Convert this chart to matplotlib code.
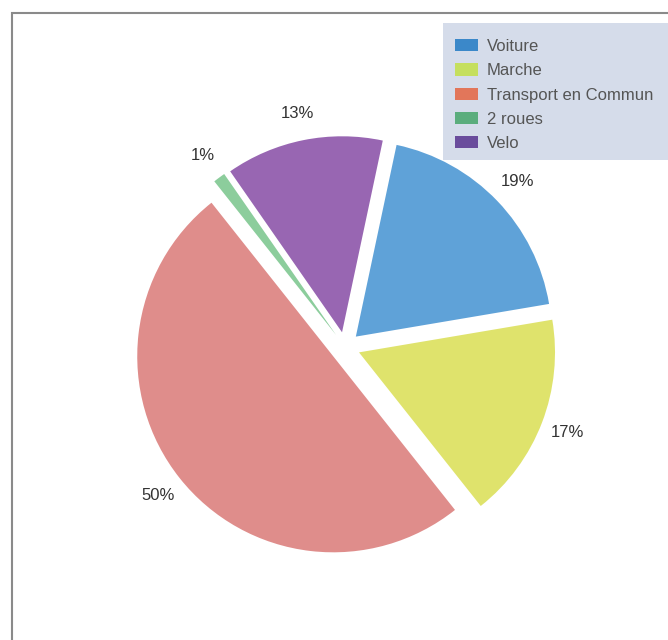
import matplotlib.pyplot as plt
from matplotlib.patches import Rectangle, Patch

labels = ["Voiture", "Marche", "Transport en Commun", "2 roues", "Velo"]
values = [19, 17, 50, 1, 13]
pie_colors = ["#5fa2d8", "#dfe36c", "#df8d8b", "#8ccd9c", "#9866b2"]
legend_colors = ["#3b88c9", "#c5df5e", "#e2765a", "#5bad7d", "#6a4c9c"]

plt.rcParams['font.family'] = ['Liberation Sans', 'DejaVu Sans']

fig = plt.figure(figsize=(6.68, 6.4), dpi=100)
ax = fig.add_axes([0, 0, 1, 1])

# pie centred at pixel (345, 347) from top, radius ~196 px, explode in px
wedges, texts, autotexts = ax.pie(
    values, colors=pie_colors, startangle=78, counterclock=False,
    explode=[15] * len(values), radius=196, center=(345, 640 - 347),
    autopct="%d%%", pctdistance=1.14,
    textprops=dict(color="#333333", fontsize=12),
    wedgeprops=dict(linewidth=0))
ax.set_xlim(0, 668)
ax.set_ylim(0, 640)
ax.axis("off")

# outer frame (clipped on right and bottom like the scan)
fig.patches.append(Rectangle((12 / 668, -0.1), 1.0, 1 - 13 / 640 + 0.1,
                             transform=fig.transFigure, fill=False,
                             edgecolor="#8a8a8a", linewidth=1.5))

# legend background running off the right edge
fig.patches.append(Rectangle((443 / 668, 1 - 160 / 640), 0.5, 137 / 640,
                             transform=fig.transFigure, facecolor="#d5dcea",
                             edgecolor="none", zorder=3))

handles = [Patch(facecolor=c, edgecolor="none") for c in legend_colors]
leg = fig.legend(handles, labels, loc="upper left",
                 bbox_to_anchor=(441 / 668, 1 - 25 / 640),
                 frameon=False, fontsize=12, handlelength=1.4, handleheight=0.75,
                 labelspacing=0.55, borderpad=0.35, handletextpad=0.5,
                 labelcolor="#555555")
leg.set_zorder(4)

fig.savefig("out.png", dpi=100)
